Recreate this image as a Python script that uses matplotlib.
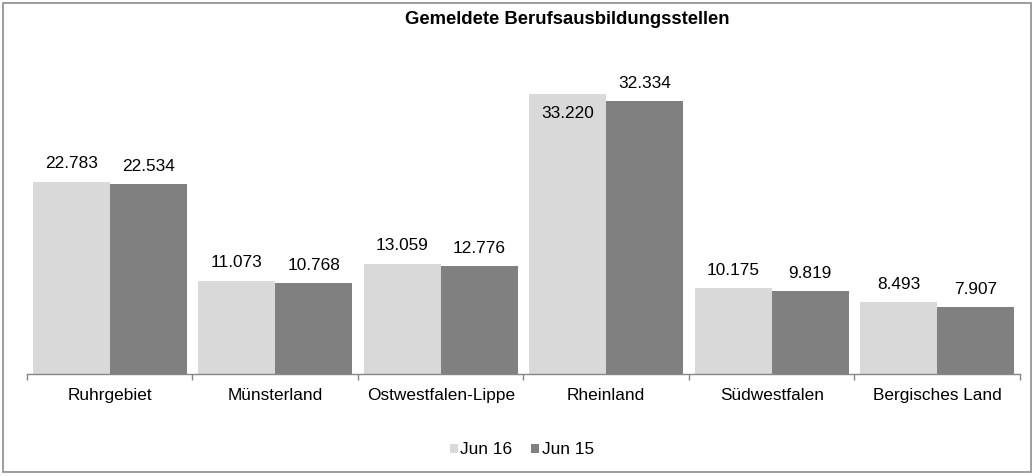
import matplotlib
matplotlib.use("Agg")
import matplotlib.pyplot as plt
from matplotlib.patches import Rectangle
import numpy as np

plt.rcParams['font.family'] = ['Liberation Sans', 'DejaVu Sans']

categories = ["Ruhrgebiet", "Münsterland", "Ostwestfalen-Lippe", "Rheinland", "Südwestfalen", "Bergisches Land"]
jun16 = [22783, 11073, 13059, 33220, 10175, 8493]
jun15 = [22534, 10768, 12776, 32334, 9819, 7907]
series_names = ["Jun 16", "Jun 15"]
title = "Gemeldete Berufsausbildungsstellen"

W, H = 1035, 476
fig = plt.figure(figsize=(W / 100, H / 100), dpi=100)

# outer border
fig.patches.append(Rectangle((3 / W, 4 / H), 1028 / W, 469 / H, transform=fig.transFigure,
                             fill=False, edgecolor="#8c8c8c", linewidth=1.2))

left, right, top, bottom = 27, 1020, 79, 374
ax = fig.add_axes([left / W, 1 - bottom / H, (right - left) / W, (bottom - top) / H])
ax.set_xlim(0, len(categories))
ymax = 35000
ax.set_ylim(0, ymax)

fs = 12.4
w = 0.466
x = np.arange(len(categories)) + 0.5
c_light, c_dark = "#d9d9d9", "#808080"
b1 = ax.bar(x - w / 2, jun16, width=w, color=c_light, label=series_names[0])
b2 = ax.bar(x + w / 2, jun15, width=w, color=c_dark, label=series_names[1])

def fmt(v):
    return f"{v:,}".replace(",", ".")

for xi, v in zip(x - w / 2, jun16):
    if v + 2300 > ymax:
        ax.annotate(fmt(v), (xi, v), xytext=(0, -14), textcoords="offset points",
                    ha="center", va="center", fontsize=fs)
    else:
        ax.annotate(fmt(v), (xi, v), xytext=(0, 13), textcoords="offset points",
                    ha="center", va="center", fontsize=fs)
for xi, v in zip(x + w / 2, jun15):
    ax.annotate(fmt(v), (xi, v), xytext=(0, 13), textcoords="offset points",
                ha="center", va="center", fontsize=fs)

for s in ["top", "right", "left"]:
    ax.spines[s].set_visible(False)
ax.spines["bottom"].set_color("#868686")
ax.spines["bottom"].set_linewidth(1.0)
ax.set_yticks([])
ax.set_xticks(np.arange(len(categories) + 1))
ax.set_xticklabels([])
ax.set_xticks(x, minor=True)
ax.set_xticklabels(categories, minor=True, fontsize=fs)
ax.tick_params(axis="x", which="major", length=4, color="#868686", width=1)
ax.tick_params(axis="x", which="minor", length=0, pad=10)

fig.text(567 / W, 1 - 20 / H, title, ha="center", va="center", fontsize=13.3, fontweight="bold")

leg = fig.legend(handles=[b1, b2], labels=series_names, loc="center", bbox_to_anchor=(522 / W, 1 - 450 / H),
                 ncol=2, frameon=False, fontsize=fs, handlelength=0.45, handleheight=0.45,
                 handletextpad=0.15, columnspacing=1.1)

fig.savefig("out.png", dpi=100)
